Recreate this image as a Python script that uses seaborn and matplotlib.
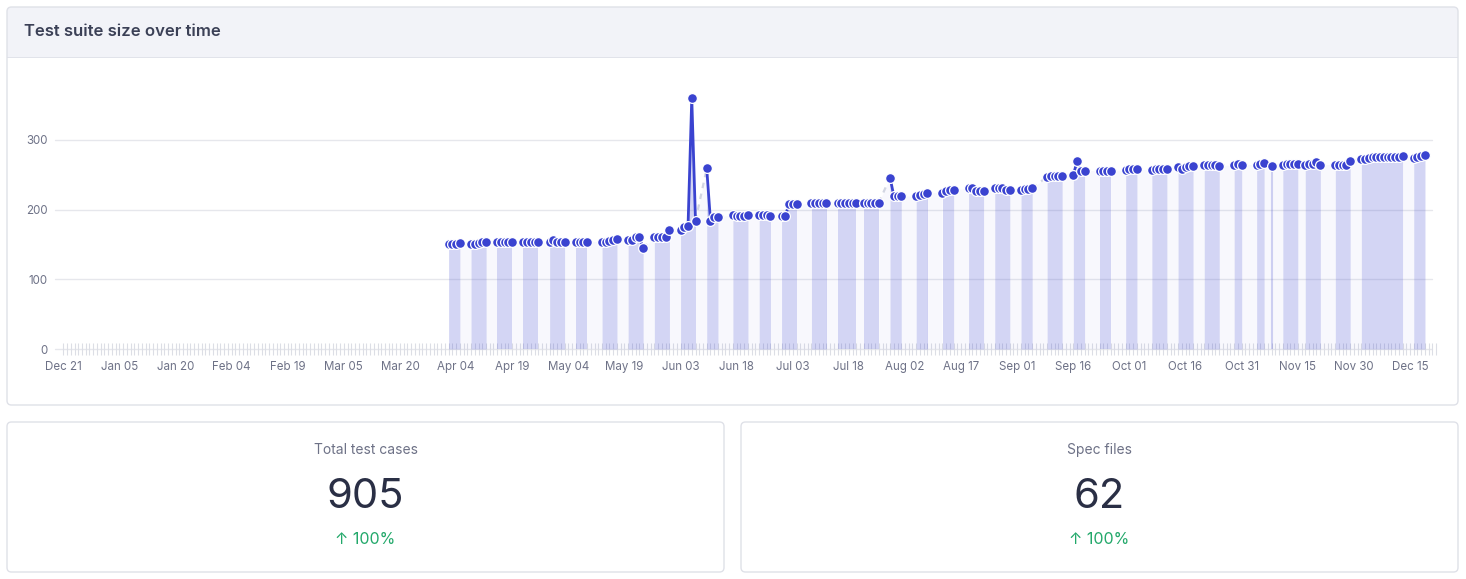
import matplotlib
matplotlib.use("Agg")
import matplotlib.pyplot as plt
import matplotlib.dates as mdates
from matplotlib.patches import FancyBboxPatch, Rectangle
import pandas as pd
import seaborn as sns

# runs of consecutive days that have a value (start date)
run_starts = [
    "2024-04-02", "2024-04-08", "2024-04-15", "2024-04-22", "2024-04-29",
    "2024-05-06", "2024-05-13", "2024-05-20", "2024-05-27", "2024-06-03",
    "2024-06-10", "2024-06-17", "2024-06-24", "2024-06-30", "2024-07-08",
    "2024-07-15", "2024-07-22", "2024-07-29", "2024-08-05", "2024-08-12",
    "2024-08-19", "2024-08-26", "2024-09-02", "2024-09-09", "2024-09-16",
    "2024-09-23", "2024-09-30", "2024-10-07", "2024-10-14", "2024-10-21",
    "2024-10-29", "2024-11-04", "2024-11-08", "2024-11-11", "2024-11-17",
    "2024-11-25", "2024-12-02", "2024-12-16",
]
run_values = [
    [151, 151, 151, 152],
    [151, 151, 152, 153, 153],
    [153, 153, 153, 153, 153],
    [153, 153, 153, 153, 153],
    [153, 156, 153, 153, 153],
    [153, 153, 153, 153],
    [153, 154, 155, 157, 158],
    [156, 157, 160, 160, 145],
    [160, 161, 161, 161, 171],
    [171, 175, 176, 360, 184],
    [259, 184, 190, 190],
    [192, 191, 191, 191, 192],
    [192, 192, 192, 191],
    [191, 191, 208, 208, 208],
    [209, 210, 210, 210, 210],
    [210, 210, 210, 210, 210, 210],
    [210, 210, 210, 210, 210],
    [246, 220, 220, 220],
    [219, 221, 223, 224],
    [224, 227, 228, 228],
    [231, 231, 227, 227, 227],
    [231, 231, 231, 228, 228],
    [228, 229, 230, 231],
    [247, 248, 248, 248, 248],
    [249, 270, 256, 256],
    [256, 256, 256, 256],
    [257, 258, 258, 258],
    [257, 258, 258, 258, 258],
    [261, 258, 261, 262, 262],
    [264, 264, 264, 264, 263],
    [264, 265, 264],
    [264, 265, 267],
    [263],
    [264, 266, 266, 266, 266],
    [264, 266, 266, 269, 264],
    [264, 264, 264, 264, 270],
    [272, 273, 274, 275, 276, 276, 276, 276, 276, 276, 276, 277],
    [274, 275, 277, 279],
]

tick_labels = ["Dec 21", "Jan 05", "Jan 20", "Feb 04", "Feb 19", "Mar 05", "Mar 20",
               "Apr 04", "Apr 19", "May 04", "May 19", "Jun 03", "Jun 18", "Jul 03",
               "Jul 18", "Aug 02", "Aug 17", "Sep 01", "Sep 16", "Oct 01", "Oct 16",
               "Oct 31", "Nov 15", "Nov 30", "Dec 15"]
y_ticks = [0, 100, 200, 300]

stat_titles = ["Total test cases", "Spec files"]
stat_values = ["905", "62"]
stat_changes = ["\u2191 100%", "\u2191 100%"]

BLUE = "#3a43d0"
GRAY = "#6e7287"
GRID = "#e6e7ec"

rows = []
for r, (start, vals) in enumerate(zip(run_starts, run_values)):
    for d, v in zip(pd.date_range(start, periods=len(vals), freq="D"), vals):
        rows.append((d, v, r))
df = pd.DataFrame(rows, columns=["date", "value", "run"])

sns.set_theme(style="white")
plt.rcParams["font.family"] = ["Inter", "DejaVu Sans"]

W, H = 1466, 579
fig = plt.figure(figsize=(W / 100, H / 100), dpi=100)
fig.patch.set_facecolor("white")


def box(x0, y0, x1, y1, **kw):
    # pixel box, y measured from the top of the image
    return FancyBboxPatch((x0 / 100, (H - y1) / 100), (x1 - x0) / 100, (y1 - y0) / 100,
                          boxstyle="round,pad=0,rounding_size=0.045",
                          transform=fig.dpi_scale_trans, **kw)


# main card with header band
fig.patches.append(box(7, 7, 1458, 405, facecolor="#f2f3f8", edgecolor="none"))
fig.patches.append(box(7, 57, 1458, 405, facecolor="white", edgecolor="none"))
fig.patches.append(Rectangle((7 / 100, (H - 66) / 100), 1451 / 100, 9 / 100,
                             facecolor="white", edgecolor="none", transform=fig.dpi_scale_trans))
fig.patches.append(Rectangle((7 / 100, (H - 57.5) / 100), 1451 / 100, 1 / 100,
                             facecolor="#e1e3ea", edgecolor="none", transform=fig.dpi_scale_trans))
fig.patches.append(box(7, 7, 1458, 405, facecolor="none", edgecolor="#dfe1e8", linewidth=1))
fig.text(24 / W, 1 - 31 / H, "Test suite size over time", fontsize=12, fontweight="semibold",
         color="#3b4056", va="center", ha="left")

# stat cards
for i, (t, v, c) in enumerate(zip(stat_titles, stat_values, stat_changes)):
    x0 = 7 + i * 734
    fig.patches.append(box(x0, 422, x0 + 717, 572, facecolor="white", edgecolor="#dfe1e8", linewidth=1))
    cx = (x0 + 358.5) / W
    fig.text(cx, 1 - 450 / H, t, fontsize=10, color=GRAY, ha="center", va="center")
    fig.text(cx, 1 - 497 / H, v, fontsize=30, color="#2a2f45", ha="center", va="center")
    fig.text(cx, 1 - 539 / H, c, fontsize=11.5, color="#22a86a", ha="center", va="center")

# chart area
x_left, x_right, y_zero, y_top = 63.3, 1439, 349, 80
ax = fig.add_axes([x_left / W, (H - y_zero) / H, (x_right - x_left) / W, (y_zero - y_top) / H])
ax.set_facecolor("none")
ax.set_zorder(5)

groups = [g for _, g in df.groupby("run")]
for g in groups:
    if len(g) > 1:
        ax.fill_between(g["date"], 0, g["value"], color=BLUE, alpha=0.22, lw=0, zorder=1)
    else:
        ax.vlines(g["date"], 0, g["value"], color=BLUE, alpha=0.22, lw=1.5, zorder=1)
for a, b in zip(groups[:-1], groups[1:]):
    xs = [a["date"].iloc[-1], b["date"].iloc[0]]
    ys = [a["value"].iloc[-1], b["value"].iloc[0]]
    ax.fill_between(xs, 0, ys, color=BLUE, alpha=0.035, lw=0, zorder=1)
    ax.plot(xs, ys, color="#d2d5e2", lw=1.6, ls=(0, (2.5, 2.5)), zorder=2)

sns.lineplot(data=df, x="date", y="value", units="run", estimator=None, color=BLUE,
             lw=2, ax=ax, legend=False, zorder=3)
sns.scatterplot(data=df, x="date", y="value", color=BLUE, s=50, edgecolor="white",
                linewidth=0.9, ax=ax, zorder=4, clip_on=False, legend=False)

ax.set_xlim(pd.Timestamp("2023-12-21"), pd.Timestamp("2024-12-22 18:00"))
ax.set_ylim(0, (y_zero - y_top) / 0.697)
ax.set_yticks(y_ticks)
ax.set_yticklabels([str(t) for t in y_ticks])
ax.set_xticks(pd.date_range("2023-12-21", periods=len(tick_labels), freq="15D"))
ax.set_xticklabels(tick_labels)
ax.xaxis.set_minor_locator(mdates.DayLocator())
# grid lines stop a little short of the right edge, like the original
for t in y_ticks:
    ax.axhline(t, xmin=-0.006, xmax=0.9949, color=GRID, lw=1, zorder=0, clip_on=False)
ax.tick_params(axis="x", which="both", bottom=True, direction="inout", length=8, width=0.8,
               color="#dcdee5", labelsize=8.3, labelcolor=GRAY, pad=4.5)
ax.tick_params(axis="y", which="major", left=False, length=0, labelsize=8.3, labelcolor=GRAY, pad=11)
ax.set_xlabel("")
ax.set_ylabel("")
for s in ax.spines.values():
    s.set_visible(False)

fig.savefig("out.png", dpi=100, facecolor="white")
